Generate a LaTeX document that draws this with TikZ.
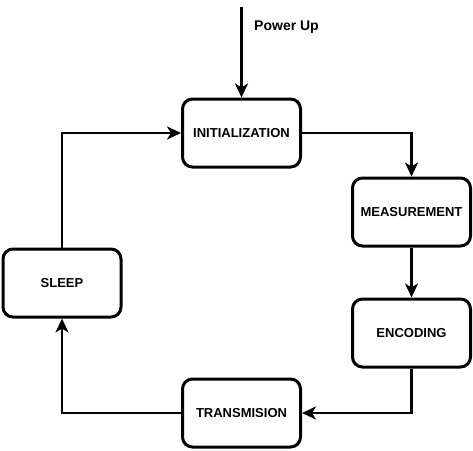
\documentclass[tikz,border=0pt]{standalone}
\usepackage{fontspec}
\setsansfont{Liberation Sans}
\tikzset{every picture/.style={/utils/exec={\sffamily}}}
\usetikzlibrary{calc}
\usetikzlibrary{arrows.meta}

\begin{document}
\begin{tikzpicture}[x=1pt, y=-1pt,
    state/.style={draw, line width=3pt, rounded corners=10pt,
      minimum width=118pt, minimum height=68pt,
      font=\bfseries\fontsize{13}{15}\selectfont},
    flow/.style={line width=2.8pt, -{Stealth[length=14pt, width=13pt, inset=4pt]}}]
  \useasboundingbox (0,0) rectangle (473,450);

  % states of the loop
  \node [state] at (241.5,133) (init)  {INITIALIZATION};
  \node [state] at (411.5,212) (meas)  {MEASUREMENT};
  \node [state] at (411.5,333) (enc)   {ENCODING};
  \node [state] at (241.5,413) (trans) {TRANSMISION};
  \node [state] at (62,283)    (sleep) {SLEEP};

  % entry
  \coordinate (start) at (241.5,7);
  \node [font=\bfseries\fontsize{14}{16}\selectfont] at (286.5,27) (powerup) {Power Up};
  \draw [flow] (start) -- (init);

  \draw [flow] (init.east) -| (meas.north);
  \draw [flow] (meas) -- (enc);
  \draw [flow] (enc.south) |- (trans.east);
  \draw [flow] (trans.west) -| (sleep.south);
  \draw [flow] (sleep.north) |- (init.west);

\end{tikzpicture}
\end{document}
